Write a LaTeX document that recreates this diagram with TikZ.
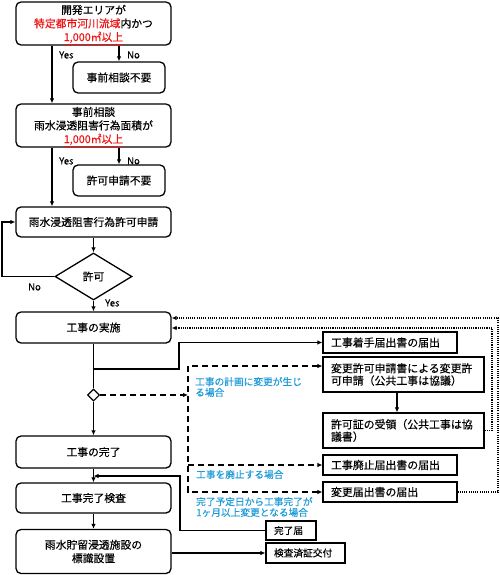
\documentclass[tikz,border=0pt]{standalone}
\usepackage{fontspec}
\setmainfont{Noto Sans CJK JP}[FakeBold=0.3]
\usetikzlibrary{arrows.meta,shapes.geometric,calc}
\definecolor{lbl}{RGB}{30,155,215}
\definecolor{redt}{RGB}{240,20,20}
\begin{document}
\begin{tikzpicture}[x=1pt,y=-1pt,
  rbox/.style={draw, line width=1.3pt, rounded corners=5pt, minimum width=155pt, align=center, inner sep=0pt, font=\fontsize{10.8}{13.5}\selectfont},
  txt/.style={align=center, inner sep=0pt, font=\fontsize{10.8}{13.5}\selectfont},
  sbox/.style={draw, line width=1.1pt, inner xsep=8pt, inner ysep=0pt, align=left, font=\fontsize{10.9}{12.3}\selectfont},
  ssbox/.style={sbox, font=\fontsize{9.7}{11}\selectfont},
  lab/.style={text=lbl, font=\fontsize{9.7}{10.7}\selectfont, align=left, inner sep=0pt, anchor=west},
  yn/.style={font=\fontsize{9.5}{11}\selectfont, inner sep=0pt, anchor=west},
  tip/.tip={Latex[length=5pt,width=4.5pt]},
  arr/.style={-tip, line width=1.2pt},
  plain/.style={line width=1.2pt},
  dsh/.style={line width=1.3pt, dash pattern=on 6pt off 4pt},
  dot/.style={line width=1.1pt, dash pattern=on 1.1pt off 1.1pt}
]
\useasboundingbox (0,0) rectangle (500,575);

% left column
\node[rbox, minimum height=43pt] (L1) at (93.5,23.5) {};
\node[txt] (L1t) at (93.5,25) {開発エリアが\\{\color{redt}特定都市河川流域}内かつ\\{\color{redt}\underline{1,000㎡以上}}};
\node[rbox, minimum width=92pt, minimum height=31pt] (N1) at (119,77.5) {事前相談不要};
\node[rbox, minimum height=43pt] (L2) at (93.5,125.5) {};
\node[txt] (L2t) at (93.5,127) {事前相談\\雨水浸透阻害行為面積が\\{\color{redt}\underline{1,000㎡以上}}};
\node[rbox, minimum width=92pt, minimum height=31pt] (N2) at (119,180.5) {許可申請不要};
\node[rbox, minimum height=30pt] (L3) at (93.5,222) {雨水浸透阻害行為許可申請};
\node[draw, diamond, line width=1.3pt, minimum width=77pt, minimum height=47pt, inner sep=0pt, aspect=1.64, font=\fontsize{10.8}{13}\selectfont] (D1) at (93.5,276.5) {許可};
\node[rbox, minimum height=31pt] (L4) at (93.5,327.5) {工事の実施};
\node[draw, diamond, line width=1.1pt, minimum size=12pt, inner sep=0pt, fill=white] (SD) at (93.5,395) {};
\node[rbox, minimum height=32pt] (L5) at (93.5,452) {工事の完了};
\node[rbox, minimum height=30pt] (L6) at (93.5,498) {工事完了検査};
\node[rbox, minimum height=44pt] (L7) at (93.5,551.5) {雨水貯留浸透施設の\\標識設置};

% right column
\node[sbox, text width=118pt, minimum height=21pt] (A) at (390,342.5) {工事着手届出書の届出};
\node[sbox, text width=145pt, minimum height=35pt] (B) at (403.5,374.5) {変更許可申請書による変更許\\可申請（公共工事は協議）};
\node[sbox, text width=145pt, minimum height=35pt] (C) at (403.5,430.5) {許可証の受領（公共工事は協\\議書）};
\node[sbox, text width=118pt, minimum height=20pt] (D) at (390,465) {工事廃止届出書の届出};
\node[sbox, text width=118pt, minimum height=20pt] (E) at (390,492) {変更届出書の届出};
\node[ssbox, text width=34pt, minimum height=19pt] (F) at (291,530.5) {完了届};
\node[ssbox, text width=63pt, minimum height=20pt] (G) at (305.5,553) {検査済証交付};

% labels
\node[yn] (y1) at (59,55) {Yes};
\node[yn] (n1) at (127,55) {No};
\node[yn] (y2) at (59,161) {Yes};
\node[yn] (n2) at (127,161) {No};
\node[yn] (n3) at (28,287) {No};
\node[yn] (y3) at (105,303) {Yes};
\node[lab] (t1) at (195,387) {工事の計画に変更が生じ\\る場合};
\node[lab] (t2) at (196,474.5) {工事を廃止する場合};
\node[lab] (t3) at (196,507) {完了予定日から工事完了が\\1ヶ月以上変更となる場合};

% helper coordinates
\coordinate (cY) at (52,0);
\coordinate (lp) at (2,0);
\coordinate (j1) at (93.5,369);
\coordinate (k1) at (179,369);
\coordinate (dT) at (188,366);
\coordinate (dM) at (188,465);
\coordinate (dB) at (188,492);
\coordinate (o1) at (498,318);
\coordinate (o2) at (492,328);
\coordinate (bc) at (397,0);
\coordinate (jx) at (180,476);

% connectors
\draw[arr] (L1.south -| cY) -- (L2.north -| cY);
\draw[arr] (L1.south -| N1.north) -- (N1.north);
\draw[arr] (L2.south -| cY) -- (L3.north -| cY);
\draw[arr] (L2.south -| N2.north) -- (N2.north);
\draw[arr] (L3.south) -- (D1.north);
\draw[arr] (D1.west) -| (lp |- L3.west) -- (L3.west);
\draw[arr] (D1.south) -- (L4.north);
\draw[plain] (L4.south) -- (SD.north);
\draw[arr] (j1) -- (k1) |- (A.west);
\draw[dsh, -tip] (SD.east) -- (SD.east -| dT);
\draw[dsh, tip-tip] (B.west |- dT) -- (dT) -- (dB) -- (E.west);
\draw[dsh, -tip] (dM) -- (D.west);
\draw[arr] (SD.south) -- (L5.north);
\draw[arr] (L5.south) -- (L6.north);
\draw[arr] (F.west) -| (jx) -- (L5.south |- jx);
\draw[arr] (L6.south) -- (L7.north);
\draw[arr] (L7.east |- G.west) -- (G.west);
\draw[arr] (B.south -| bc) -- (C.north -| bc);
\draw[dot, -tip] (E.east) -| (o1) -- (L4.east |- o1);
\draw[dot, -tip] (C.east) -| (o2) -- (L4.east |- o2);
\end{tikzpicture}
\end{document}
